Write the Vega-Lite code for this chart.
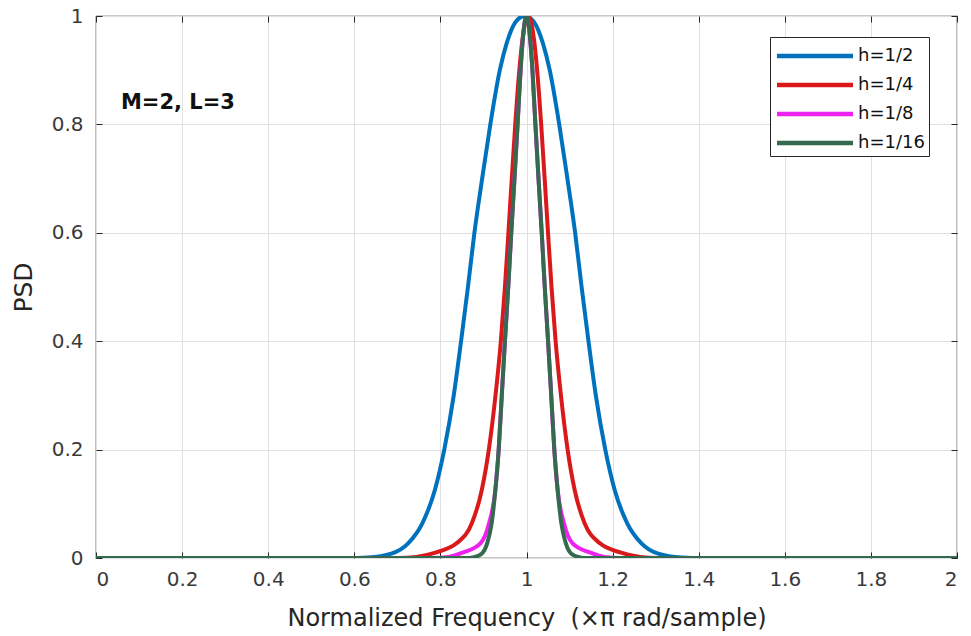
{
  "$schema": "https://vega.github.io/schema/vega-lite/v6.json",
  "width": 861,
  "height": 542,
  "autosize": "none",
  "padding": {"left": 96, "top": 16, "right": 14, "bottom": 78},
  "background": "white",
  "config": {
    "font": "DejaVu Sans",
    "view": {"stroke": "#262626", "strokeWidth": 1.2},
    "axis": {
      "domain": false,
      "gridColor": "#e0e0e0",
      "gridWidth": 1,
      "tickColor": "#262626",
      "tickSize": -6,
      "labelFont": "DejaVu Sans",
      "labelFontSize": 20,
      "labelColor": "#3a3a3a",
      "titleFont": "DejaVu Sans",
      "titleFontWeight": "normal",
      "titleColor": "#262626"
    }
  },
  "datasets": {
    "psd": [
      {"s": "h=1/2", "x": 0, "y": 0},
      {"s": "h=1/2", "x": 0.583, "y": 0},
      {"s": "h=1/2", "x": 0.632, "y": 0.001},
      {"s": "h=1/2", "x": 0.686, "y": 0.008},
      {"s": "h=1/2", "x": 0.725, "y": 0.027},
      {"s": "h=1/2", "x": 0.758, "y": 0.064},
      {"s": "h=1/2", "x": 0.787, "y": 0.125},
      {"s": "h=1/2", "x": 0.809, "y": 0.2},
      {"s": "h=1/2", "x": 0.831, "y": 0.3},
      {"s": "h=1/2", "x": 0.848, "y": 0.4},
      {"s": "h=1/2", "x": 0.864, "y": 0.5},
      {"s": "h=1/2", "x": 0.879, "y": 0.6},
      {"s": "h=1/2", "x": 0.897, "y": 0.7},
      {"s": "h=1/2", "x": 0.916, "y": 0.8},
      {"s": "h=1/2", "x": 0.938, "y": 0.9},
      {"s": "h=1/2", "x": 0.954, "y": 0.95},
      {"s": "h=1/2", "x": 0.9755, "y": 0.99},
      {"s": "h=1/2", "x": 0.996, "y": 1},
      {"s": "h=1/2", "x": 1.0165, "y": 0.99},
      {"s": "h=1/2", "x": 1.038, "y": 0.95},
      {"s": "h=1/2", "x": 1.054, "y": 0.9},
      {"s": "h=1/2", "x": 1.076, "y": 0.8},
      {"s": "h=1/2", "x": 1.095, "y": 0.7},
      {"s": "h=1/2", "x": 1.113, "y": 0.6},
      {"s": "h=1/2", "x": 1.128, "y": 0.5},
      {"s": "h=1/2", "x": 1.144, "y": 0.4},
      {"s": "h=1/2", "x": 1.161, "y": 0.3},
      {"s": "h=1/2", "x": 1.183, "y": 0.2},
      {"s": "h=1/2", "x": 1.205, "y": 0.125},
      {"s": "h=1/2", "x": 1.234, "y": 0.064},
      {"s": "h=1/2", "x": 1.267, "y": 0.027},
      {"s": "h=1/2", "x": 1.306, "y": 0.008},
      {"s": "h=1/2", "x": 1.360, "y": 0.001},
      {"s": "h=1/2", "x": 1.409, "y": 0},
      {"s": "h=1/2", "x": 2, "y": 0},

      {"s": "h=1/4", "x": 0, "y": 0},
      {"s": "h=1/4", "x": 0.704, "y": 0},
      {"s": "h=1/4", "x": 0.744, "y": 0.002},
      {"s": "h=1/4", "x": 0.7885, "y": 0.01},
      {"s": "h=1/4", "x": 0.8373, "y": 0.027},
      {"s": "h=1/4", "x": 0.873, "y": 0.064},
      {"s": "h=1/4", "x": 0.896, "y": 0.125},
      {"s": "h=1/4", "x": 0.9125, "y": 0.2},
      {"s": "h=1/4", "x": 0.928, "y": 0.3},
      {"s": "h=1/4", "x": 0.9404, "y": 0.4},
      {"s": "h=1/4", "x": 0.9499, "y": 0.5},
      {"s": "h=1/4", "x": 0.958, "y": 0.6},
      {"s": "h=1/4", "x": 0.9658, "y": 0.7},
      {"s": "h=1/4", "x": 0.9739, "y": 0.8},
      {"s": "h=1/4", "x": 0.9833, "y": 0.9},
      {"s": "h=1/4", "x": 0.9896, "y": 0.95},
      {"s": "h=1/4", "x": 0.9976, "y": 0.99},
      {"s": "h=1/4", "x": 1.004, "y": 1},
      {"s": "h=1/4", "x": 1.0104, "y": 0.99},
      {"s": "h=1/4", "x": 1.0184, "y": 0.95},
      {"s": "h=1/4", "x": 1.0247, "y": 0.9},
      {"s": "h=1/4", "x": 1.0341, "y": 0.8},
      {"s": "h=1/4", "x": 1.0422, "y": 0.7},
      {"s": "h=1/4", "x": 1.050, "y": 0.6},
      {"s": "h=1/4", "x": 1.0581, "y": 0.5},
      {"s": "h=1/4", "x": 1.0676, "y": 0.4},
      {"s": "h=1/4", "x": 1.080, "y": 0.3},
      {"s": "h=1/4", "x": 1.0955, "y": 0.2},
      {"s": "h=1/4", "x": 1.112, "y": 0.125},
      {"s": "h=1/4", "x": 1.135, "y": 0.064},
      {"s": "h=1/4", "x": 1.1707, "y": 0.027},
      {"s": "h=1/4", "x": 1.2195, "y": 0.01},
      {"s": "h=1/4", "x": 1.264, "y": 0.002},
      {"s": "h=1/4", "x": 1.304, "y": 0},
      {"s": "h=1/4", "x": 2, "y": 0},

      {"s": "h=1/8", "x": 0, "y": 0},
      {"s": "h=1/8", "x": 0.78, "y": 0},
      {"s": "h=1/8", "x": 0.82, "y": 0.002},
      {"s": "h=1/8", "x": 0.852, "y": 0.01},
      {"s": "h=1/8", "x": 0.893, "y": 0.027},
      {"s": "h=1/8", "x": 0.913, "y": 0.064},
      {"s": "h=1/8", "x": 0.9276, "y": 0.125},
      {"s": "h=1/8", "x": 0.9354, "y": 0.2},
      {"s": "h=1/8", "x": 0.9426, "y": 0.3},
      {"s": "h=1/8", "x": 0.9499, "y": 0.4},
      {"s": "h=1/8", "x": 0.9576, "y": 0.5},
      {"s": "h=1/8", "x": 0.9646, "y": 0.6},
      {"s": "h=1/8", "x": 0.9721, "y": 0.7},
      {"s": "h=1/8", "x": 0.9793, "y": 0.8},
      {"s": "h=1/8", "x": 0.9862, "y": 0.9},
      {"s": "h=1/8", "x": 0.9907, "y": 0.95},
      {"s": "h=1/8", "x": 0.996, "y": 0.99},
      {"s": "h=1/8", "x": 1.0, "y": 1},
      {"s": "h=1/8", "x": 1.004, "y": 0.99},
      {"s": "h=1/8", "x": 1.0093, "y": 0.95},
      {"s": "h=1/8", "x": 1.0138, "y": 0.9},
      {"s": "h=1/8", "x": 1.0207, "y": 0.8},
      {"s": "h=1/8", "x": 1.0279, "y": 0.7},
      {"s": "h=1/8", "x": 1.0354, "y": 0.6},
      {"s": "h=1/8", "x": 1.0424, "y": 0.5},
      {"s": "h=1/8", "x": 1.0501, "y": 0.4},
      {"s": "h=1/8", "x": 1.0574, "y": 0.3},
      {"s": "h=1/8", "x": 1.0646, "y": 0.2},
      {"s": "h=1/8", "x": 1.0724, "y": 0.125},
      {"s": "h=1/8", "x": 1.087, "y": 0.064},
      {"s": "h=1/8", "x": 1.107, "y": 0.027},
      {"s": "h=1/8", "x": 1.148, "y": 0.01},
      {"s": "h=1/8", "x": 1.18, "y": 0.002},
      {"s": "h=1/8", "x": 1.22, "y": 0},
      {"s": "h=1/8", "x": 2, "y": 0},

      {"s": "h=1/16", "x": 0, "y": 0},
      {"s": "h=1/16", "x": 0.86, "y": 0},
      {"s": "h=1/16", "x": 0.8755, "y": 0.001},
      {"s": "h=1/16", "x": 0.8959, "y": 0.008},
      {"s": "h=1/16", "x": 0.9086, "y": 0.027},
      {"s": "h=1/16", "x": 0.9191, "y": 0.064},
      {"s": "h=1/16", "x": 0.9276, "y": 0.125},
      {"s": "h=1/16", "x": 0.9354, "y": 0.2},
      {"s": "h=1/16", "x": 0.9426, "y": 0.3},
      {"s": "h=1/16", "x": 0.9499, "y": 0.4},
      {"s": "h=1/16", "x": 0.9576, "y": 0.5},
      {"s": "h=1/16", "x": 0.9646, "y": 0.6},
      {"s": "h=1/16", "x": 0.9721, "y": 0.7},
      {"s": "h=1/16", "x": 0.9793, "y": 0.8},
      {"s": "h=1/16", "x": 0.9862, "y": 0.9},
      {"s": "h=1/16", "x": 0.9907, "y": 0.95},
      {"s": "h=1/16", "x": 0.996, "y": 0.99},
      {"s": "h=1/16", "x": 1.0, "y": 1},
      {"s": "h=1/16", "x": 1.004, "y": 0.99},
      {"s": "h=1/16", "x": 1.0093, "y": 0.95},
      {"s": "h=1/16", "x": 1.0138, "y": 0.9},
      {"s": "h=1/16", "x": 1.0207, "y": 0.8},
      {"s": "h=1/16", "x": 1.0279, "y": 0.7},
      {"s": "h=1/16", "x": 1.0354, "y": 0.6},
      {"s": "h=1/16", "x": 1.0424, "y": 0.5},
      {"s": "h=1/16", "x": 1.0501, "y": 0.4},
      {"s": "h=1/16", "x": 1.0574, "y": 0.3},
      {"s": "h=1/16", "x": 1.0646, "y": 0.2},
      {"s": "h=1/16", "x": 1.0724, "y": 0.125},
      {"s": "h=1/16", "x": 1.0809, "y": 0.064},
      {"s": "h=1/16", "x": 1.0914, "y": 0.027},
      {"s": "h=1/16", "x": 1.1041, "y": 0.008},
      {"s": "h=1/16", "x": 1.1245, "y": 0.001},
      {"s": "h=1/16", "x": 1.14, "y": 0},
      {"s": "h=1/16", "x": 2, "y": 0}
    ],
    "note": [{"x": 0.058, "y": 0.839, "t": "M=2, L=3"}]
  },
  "layer": [
    {
      "data": {"name": "psd"},
      "mark": {"type": "line", "strokeWidth": 4, "interpolate": "monotone", "clip": true},
      "encoding": {
        "x": {
          "field": "x", "type": "quantitative",
          "scale": {"domain": [0, 2], "nice": false, "zero": false},
          "axis": {"title": "Normalized Frequency\u00a0 (×π rad/sample)", "titleFontSize": 24, "format": "~g", "values": [0, 0.2, 0.4, 0.6, 0.8, 1, 1.2, 1.4, 1.6, 1.8, 2], "labelPadding": 17, "titlePadding": 17}
        },
        "y": {
          "field": "y", "type": "quantitative",
          "scale": {"domain": [0, 1], "nice": false},
          "axis": {"title": "PSD", "titleFontSize": 25, "format": "~g", "values": [0, 0.2, 0.4, 0.6, 0.8, 1], "labelPadding": 19, "titlePadding": 15}
        },
        "color": {
          "field": "s", "type": "nominal", "sort": null,
          "scale": {"domain": ["h=1/2", "h=1/4", "h=1/8", "h=1/16"], "range": ["#0072BD", "#DA1A1A", "#EE22EE", "#356A4F"]},
          "legend": {
            "title": null,
            "orient": "none",
            "legendX": 674,
            "legendY": 21,
            "symbolType": "M-3,0H3",
            "symbolSize": 642,
            "symbolOffset": 26,
            "symbolStrokeWidth": 4.5,
            "labelFont": "DejaVu Sans",
            "labelFontSize": 18,
            "labelColor": "#111",
            "labelOffset": 28,
            "strokeColor": "#262626",
            "fillColor": "white",
            "padding": 4,
            "rowPadding": 5
          }
        }
      }
    },
    {
      "data": {"name": "note"},
      "mark": {"type": "text", "align": "left", "baseline": "middle", "font": "DejaVu Sans", "fontSize": 21, "fontWeight": "bold", "color": "#111"},
      "encoding": {
        "x": {"field": "x", "type": "quantitative", "axis": {"orient": "top", "title": null, "labels": false, "grid": false, "values": [0, 0.2, 0.4, 0.6, 0.8, 1, 1.2, 1.4, 1.6, 1.8, 2]}},
        "y": {"field": "y", "type": "quantitative", "axis": {"orient": "right", "title": null, "labels": false, "grid": false, "values": [0, 0.2, 0.4, 0.6, 0.8, 1]}},
        "text": {"field": "t"}
      }
    }
  ],
  "resolve": {"axis": {"x": "independent", "y": "independent"}}
}
